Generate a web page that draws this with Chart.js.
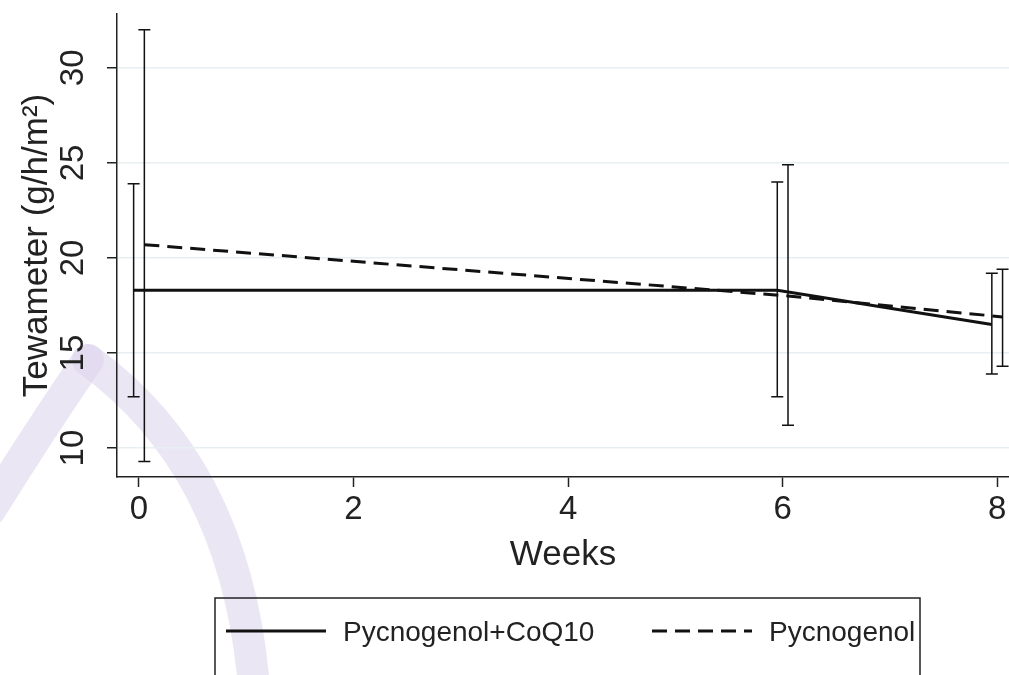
<!DOCTYPE html>
<html lang="en">
<head>
<meta charset="UTF-8">
<title>Tewameter over weeks</title>
<script src="https://cdn.jsdelivr.net/npm/chart.js@4.4.1/dist/chart.umd.min.js"></script>
<style>
  body { margin: 0; background: #fff; }
</style>
</head>
<body>
<canvas id="chart" width="1009" height="675"></canvas>
<script>
// weeks of measurement and axis ticks
const weeks = [0, 6, 8];
const xTicks = [0, 2, 4, 6, 8];
const yTicks = [10, 15, 20, 25, 30];

// Pycnogenol+CoQ10 : mean and error bar ends
const comboMean = [18.3, 18.3, 16.5];
const comboLow  = [12.7, 12.7, 13.9];
const comboHigh = [23.9, 24.0, 19.2];

// Pycnogenol : mean and error bar ends
const pycMean = [20.7, 18.0, 16.9];
const pycLow  = [9.3, 11.2, 14.3];
const pycHigh = [32.0, 24.9, 19.4];

const FONT = '"Liberation Sans", Arial, Helvetica, sans-serif';
Chart.defaults.font.family = FONT;
Chart.defaults.color = '#222';

function series(label, means, lows, highs, dodge, dash) {
    return {
        label: label,
        data: weeks.map((w, i) => ({ x: w + dodge, y: means[i] })),
        errLow: lows,
        errHigh: highs,
        borderColor: '#111',
        borderWidth: 3,
        borderDash: dash,
        pointRadius: 0,
        showLine: true,
        fill: false,
        tension: 0
    };
}

// faint publisher mark behind the plot
const watermark = {
    id: 'watermark',
    beforeDraw(chart) {
        const ctx = chart.ctx;
        ctx.save();
        ctx.fillStyle = '#fff';
        ctx.fillRect(0, 0, chart.width, chart.height);
        ctx.strokeStyle = 'rgba(222, 214, 236, 0.6)';
        ctx.lineCap = 'round';
        ctx.lineWidth = 32;
        ctx.beginPath();
        ctx.moveTo(88, 360);
        ctx.quadraticCurveTo(240, 470, 255, 700);
        ctx.stroke();
        ctx.beginPath();
        ctx.moveTo(88, 360);
        ctx.quadraticCurveTo(40, 430, -10, 510);
        ctx.stroke();
        ctx.restore();
    }
};

const errorBars = {
    id: 'errorBars',
    afterDatasetsDraw(chart, args, opts) {
        const { ctx, scales: { x, y } } = chart;
        ctx.save();
        ctx.strokeStyle = opts.color;
        ctx.lineWidth = opts.width;
        chart.data.datasets.forEach(ds => {
            ds.data.forEach((p, i) => {
                const px = x.getPixelForValue(p.x);
                const top = y.getPixelForValue(ds.errHigh[i]);
                const bot = y.getPixelForValue(ds.errLow[i]);
                ctx.beginPath();
                ctx.moveTo(px, top); ctx.lineTo(px, bot);
                ctx.moveTo(px - opts.cap, top); ctx.lineTo(px + opts.cap, top);
                ctx.moveTo(px - opts.cap, bot); ctx.lineTo(px + opts.cap, bot);
                ctx.stroke();
            });
        });
        ctx.restore();
    }
};

// legend in a framed box, like the original figure
const boxLegend = {
    id: 'boxLegend',
    afterDraw(chart, args, opts) {
        const ctx = chart.ctx;
        ctx.save();
        ctx.strokeStyle = '#222';
        ctx.lineWidth = 1.5;
        ctx.strokeRect(opts.left, opts.top, opts.width, opts.height);
        ctx.font = opts.fontSize + 'px ' + FONT;
        ctx.textBaseline = 'middle';
        ctx.fillStyle = '#222';
        chart.data.datasets.forEach((ds, i) => {
            const x = opts.itemX[i];
            ctx.beginPath();
            ctx.setLineDash(ds.borderDash || []);
            ctx.lineWidth = ds.borderWidth;
            ctx.strokeStyle = ds.borderColor;
            ctx.moveTo(x, opts.rowY);
            ctx.lineTo(x + opts.sampleWidth, opts.rowY);
            ctx.stroke();
            ctx.setLineDash([]);
            ctx.fillText(ds.label, x + opts.sampleWidth + opts.textGap, opts.rowY + 2);
        });
        ctx.restore();
    }
};

new Chart(document.getElementById('chart'), {
    type: 'scatter',
    data: {
        datasets: [
            series('Pycnogenol+CoQ10', comboMean, comboLow, comboHigh, -0.05, []),
            series('Pycnogenol', pycMean, pycLow, pycHigh, 0.05, [15, 8])
        ]
    },
    options: {
        responsive: false,
        animation: false,
        layout: { padding: { top: 14, left: 0, right: 0, bottom: 0 } },
        plugins: {
            legend: { display: false },
            tooltip: { enabled: false },
            errorBars: { color: '#111', width: 1.5, cap: 6 },
            boxLegend: {
                left: 215, top: 598, width: 705, height: 120,
                rowY: 631, itemX: [226, 652], sampleWidth: 100, textGap: 17, fontSize: 28
            }
        },
        scales: {
            x: {
                type: 'linear',
                min: -0.205,
                max: 8.11,
                afterBuildTicks: s => { s.ticks = xTicks.map(v => ({ value: v })); },
                afterFit: s => { s.height = 198; s.paddingLeft = 0; s.paddingRight = 0; },
                grid: { drawOnChartArea: false, tickLength: 10, tickColor: '#222', tickWidth: 1.5 },
                border: { color: '#222', width: 1.5 },
                ticks: { font: { size: 33 }, color: '#222', padding: 3, maxRotation: 0 },
                title: { display: true, text: 'Weeks', font: { size: 35 }, color: '#222', padding: { top: 0, bottom: 99 } }
            },
            y: {
                min: 8.48,
                max: 32.83,
                afterBuildTicks: s => { s.ticks = yTicks.map(v => ({ value: v })); },
                afterFit: s => { s.width = 117; s.paddingTop = 0; s.paddingBottom = 0; },
                grid: { color: '#e8eff2', lineWidth: 1.5, tickLength: 10, tickColor: '#222', tickWidth: 1.5 },
                border: { color: '#222', width: 1.5 },
                ticks: { font: { size: 33 }, color: '#222', padding: 15, minRotation: 90, maxRotation: 90, crossAlign: 'center' },
                title: { display: true, text: 'Tewameter (g/h/m²)', font: { size: 35 }, color: '#222', padding: { top: 16, bottom: 0 } }
            }
        }
    },
    plugins: [watermark, errorBars, boxLegend]
});
</script>
</body>
</html>
